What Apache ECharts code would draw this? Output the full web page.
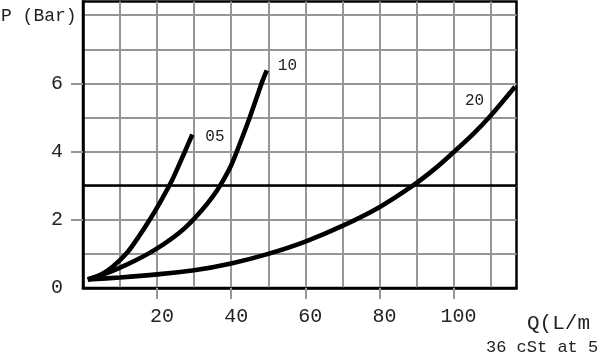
<!DOCTYPE html>
<html>
<head>
<meta charset="utf-8">
<script src="https://cdn.jsdelivr.net/npm/echarts@6/dist/echarts.min.js"></script>
<style>html,body{margin:0;padding:0;background:#fff}#c{width:600px;height:357px}</style>
</head>
<body>
<div id="c"></div>
<script>
// Data
const xLabelValues = [20, 40, 60, 80, 100];
const yLabelValues = [0, 2, 4, 6];
const yTickValues = [2, 4, 6];
const refPressure = 3;
const curve05 = [[1.3,0.25],[5,0.4],[8,0.62],[12,1.05],[15,1.5],[18,2.0],[21,2.55],[24,3.15],[27.3,3.95],[29.5,4.5]];
const curve10 = [[1.3,0.25],[6,0.42],[10,0.6],[14,0.8],[18,1.03],[22,1.3],[26,1.62],[29,1.92],[32,2.27],[35,2.68],[37,3.0],[40,3.6],[43,4.42],[45,5.0],[47,5.62],[48.3,6.03],[49.6,6.38]];
const curve20 = [[1.3,0.25],[10,0.31],[20,0.4],[30,0.52],[40,0.72],[50,1.0],[60,1.36],[70,1.82],[80,2.37],[89,3.0],[95,3.5],[100,3.98],[105,4.48],[110,5.05],[116.6,5.9]];
const seriesNames = ['05', '10', '20'];

const FONT = 'Liberation Mono';
const GRID_COLOR = '#969696';
const chart = echarts.init(document.getElementById('c'), null, {renderer: 'canvas'});

function lineSeries(name, data, lbl) {
  return {
    name: name, type: 'line', data: data, smooth: 0.3, showSymbol: false, symbol: 'none',
    lineStyle: {color: '#000', width: 4.6, cap: 'butt'},
    endLabel: Object.assign({show: true, formatter: name, fontFamily: FONT, fontSize: 16, color: '#222'}, lbl),
    z: 5
  };
}

const hidden = {axisLine: {show: false}, axisTick: {show: false}, axisLabel: {show: false}};

chart.setOption({
  animation: false,
  grid: {left: 83, right: 83.5, top: 1.5, bottom: 69, show: true, borderColor: '#000', borderWidth: 2.5, containLabel: false},
  xAxis: [{
    type: 'value', min: 0, max: 117, interval: 20, z: 3,
    axisLine: {show: true, lineStyle: {color: '#000', width: 2.5}},
    axisTick: {show: true, length: 11, lineStyle: {color: GRID_COLOR, width: 2}, customValues: xLabelValues},
    axisLabel: {show: true, customValues: xLabelValues, fontFamily: FONT, fontSize: 20, color: '#222', margin: 19, padding: [0, 0, 0, 10]},
    splitLine: {show: false}
  }, Object.assign({
    type: 'value', min: 0, max: 117, interval: 10, position: 'bottom', z: 1,
    splitLine: {show: true, showMinLine: false, showMaxLine: false, lineStyle: {color: GRID_COLOR, width: 2}}
  }, hidden)],
  yAxis: [{
    type: 'value', min: 0, max: 8.4, interval: 2, z: 3,
    axisLine: {show: true, lineStyle: {color: '#000', width: 2.5}},
    axisTick: {show: true, length: 12, lineStyle: {color: GRID_COLOR, width: 2}, customValues: yTickValues},
    axisLabel: {show: true, customValues: yLabelValues, fontFamily: FONT, fontSize: 20, color: '#222', margin: 20, padding: [12, 0, 0, 0]},
    splitLine: {show: false}
  }, Object.assign({
    type: 'value', min: 0, max: 8.4, interval: 1, position: 'left', z: 1,
    splitLine: {show: true, showMinLine: false, showMaxLine: false, lineStyle: {color: GRID_COLOR, width: 2}}
  }, hidden)],
  series: [
    Object.assign(lineSeries(seriesNames[0], curve05, {distance: 13, offset: [0, 2]}), {
      markLine: {silent: true, symbol: 'none', label: {show: false}, lineStyle: {color: '#000', width: 2.6, type: 'solid'}, data: [{yAxis: refPressure}]}
    }),
    lineSeries(seriesNames[1], curve10, {distance: 11, offset: [0, -5]}),
    lineSeries(seriesNames[2], curve20, {distance: 5, offset: [-55, 14]})
  ],
  graphic: [
    {type: 'text', left: 1, top: 7, style: {text: 'P (Bar)', font: '18px "' + FONT + '"', fill: '#222'}},
    {type: 'text', left: 527, top: 313, style: {text: 'Q(L/m', font: '21px "' + FONT + '"', fill: '#222'}},
    {type: 'text', left: 486, top: 339, style: {text: '36 cSt at 5', font: '17px "' + FONT + '"', fill: '#222'}}
  ]
});
</script>
</body>
</html>
